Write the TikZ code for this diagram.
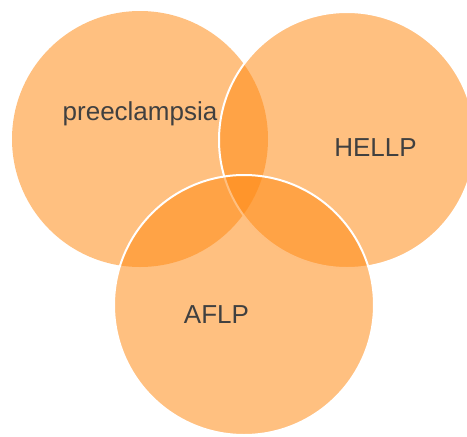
\documentclass[tikz,border=0pt]{standalone}
\usepackage{fontspec}
\setmainfont{Liberation Sans}
\definecolor{vennorange}{RGB}{255,138,20}
\definecolor{labelgray}{RGB}{64,64,64}
\tikzset{
  venn/.style={circle, minimum size=256pt, inner sep=0pt, outer sep=0pt,
    fill=vennorange, fill opacity=0.54},
  vennrim/.style={venn, draw=white, line width=2pt, draw opacity=1},
  vennlabel/.style={anchor=base, text=labelgray, inner sep=0pt,
    font=\fontsize{26}{30}\selectfont}
}
\begin{document}
\begin{tikzpicture}[x=1pt, y=-1pt]
  \useasboundingbox (0,0) rectangle (467,437);
  \clip (0,0) rectangle (467,437);
  % three overlapping sets
  \node[venn]    (pre)   at (140,139) {};
  \node[vennrim] (hellp) at (347,140) {};
  \node[vennrim, minimum size=260pt] (aflp) at (244,305) {};
  % set names
  \node[vennlabel] (prelabel)   at (140,120) {preeclampsia};
  \node[vennlabel] (hellplabel) at (375.5,156) {HELLP};
  \node[vennlabel] (aflplabel)  at (216.5,323) {AFLP};
\end{tikzpicture}
\end{document}
